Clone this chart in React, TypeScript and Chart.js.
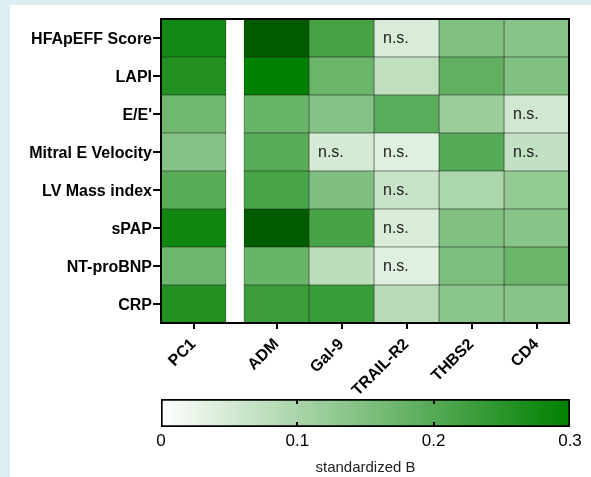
import { useEffect, useRef } from 'react';
import { Chart, registerables } from 'chart.js';

Chart.register(...registerables);

const ROWS = ['HFApEFF Score', 'LAPI', "E/E'", 'Mitral E Velocity', 'LV Mass index', 'sPAP', 'NT-proBNP', 'CRP'];
const COLUMNS = ['PC1', 'ADM', 'Gal-9', 'TRAIL-R2', 'THBS2', 'CD4'];

const PC1 = [0.28, 0.26, 0.168, 0.144, 0.196, 0.281, 0.172, 0.26];
const ADM = [0.355, 0.3, 0.178, 0.196, 0.215, 0.355, 0.178, 0.23];
const GAL9 = [0.219, 0.175, 0.144, 0.049, 0.151, 0.219, 0.081, 0.234];
const TRAIL_R2 = [0.046, 0.075, 0.194, 0.036, 0.065, 0.046, 0.036, 0.084];
const THBS2 = [0.149, 0.187, 0.116, 0.2, 0.098, 0.149, 0.154, 0.138];
const CD4 = [0.14, 0.149, 0.055, 0.072, 0.126, 0.14, 0.175, 0.14];

const NS_PC1: string[] = [];
const NS_ADM: string[] = [];
const NS_GAL9 = ['Mitral E Velocity'];
const NS_TRAIL_R2 = ['HFApEFF Score', 'Mitral E Velocity', 'LV Mass index', 'sPAP', 'NT-proBNP'];
const NS_THBS2: string[] = [];
const NS_CD4 = ["E/E'", 'Mitral E Velocity'];

const COLORBAR_TICKS = [0, 0.1, 0.2, 0.3];
const COLORBAR_TITLE = 'standardized \u0392';

const GAP = 18 / 65;
const FONT = '"Liberation Sans", Arial, Helvetica, sans-serif';

function colStart(i: number) {
  return i === 0 ? 0 : i + GAP;
}

function colorFor(v: number) {
  if (v <= 0.3) {
    const t = Math.max(0, v) / 0.3;
    const r = Math.round(255 * (1 - t));
    const g = Math.round(255 - 127 * t);
    return `rgb(${r},${g},${r})`;
  }
  const t = Math.min((v - 0.3) / 0.1, 1);
  const g = Math.round(128 - 68 * t);
  return `rgb(0,${g},0)`;
}

export default function App() {
  const heatRef = useRef<HTMLCanvasElement | null>(null);
  const barRef = useRef<HTMLCanvasElement | null>(null);

  useEffect(() => {
    const seriesList = [PC1, ADM, GAL9, TRAIL_R2, THBS2, CD4];
    const nsList = [NS_PC1, NS_ADM, NS_GAL9, NS_TRAIL_R2, NS_THBS2, NS_CD4];

    const framePlugin = {
      id: 'frame',
      afterDatasetsDraw(chart: any) {
        const { ctx, chartArea: a } = chart;
        ctx.save();
        ctx.strokeStyle = '#000';
        ctx.lineWidth = 2;
        ctx.strokeRect(a.left, a.top, a.right - a.left, a.bottom - a.top);
        ctx.restore();
      },
    };

    const nsPlugin = {
      id: 'nsText',
      afterDatasetsDraw(chart: any) {
        const ctx = chart.ctx;
        ctx.save();
        ctx.font = `16px ${FONT}`;
        ctx.fillStyle = '#222';
        ctx.textAlign = 'left';
        ctx.textBaseline = 'middle';
        nsList.forEach((ns, di) => {
          const meta = chart.getDatasetMeta(di);
          ROWS.forEach((row, ri) => {
            if (ns.includes(row)) {
              const el = meta.data[ri];
              const left = Math.min(el.x, el.base);
              ctx.fillText('n.s.', left + 9, el.y + 1);
            }
          });
        });
        ctx.restore();
      },
    };

    const heat = new Chart(heatRef.current as HTMLCanvasElement, {
      type: 'bar',
      data: {
        labels: ROWS,
        datasets: COLUMNS.map((name, i) => ({
          label: name,
          data: ROWS.map(() => [colStart(i), colStart(i) + 1]),
          backgroundColor: seriesList[i].map(colorFor),
          borderColor: '#222',
          borderWidth: 0.6,
          borderSkipped: false,
          grouped: false,
          barPercentage: 1,
          categoryPercentage: 1,
        })) as any,
      },
      options: {
        indexAxis: 'y',
        responsive: false,
        animation: false,
        layout: { padding: { top: 19, right: 22, left: 0, bottom: 0 } },
        plugins: { legend: { display: false }, tooltip: { enabled: false } },
        scales: {
          x: {
            type: 'linear',
            min: 0,
            max: COLUMNS.length + GAP,
            afterBuildTicks: (s: any) => {
              s.ticks = COLUMNS.map((_, i) => ({ value: colStart(i) + 0.5 }));
            },
            afterFit: (s: any) => {
              s.height = 77;
            },
            ticks: {
              autoSkip: false,
              maxRotation: 45,
              minRotation: 45,
              callback: (_v: any, i: number) => COLUMNS[i],
              font: { family: FONT, size: 16, weight: 'bold' },
              color: '#000',
              padding: 6,
            },
            grid: { drawOnChartArea: false, drawTicks: true, tickLength: 6, color: '#000', lineWidth: 2 },
            border: { display: false },
          },
          y: {
            type: 'category',
            afterFit: (s: any) => {
              s.width = 161;
            },
            ticks: {
              font: { family: FONT, size: 16, weight: 'bold' },
              color: '#000',
              padding: 1,
              labelOffset: 1.5,
            },
            grid: { offset: false, drawOnChartArea: false, drawTicks: true, tickLength: 8, color: '#000', lineWidth: 2 },
            border: { display: false },
          },
        },
      } as any,
      plugins: [framePlugin, nsPlugin],
    });

    const tickMarkPlugin = {
      id: 'cbTicks',
      afterDatasetsDraw(chart: any) {
        const { ctx, chartArea: a } = chart;
        const xs = chart.scales.x;
        ctx.save();
        ctx.strokeStyle = '#000';
        ctx.lineWidth = 2;
        COLORBAR_TICKS.slice(1, -1).forEach((v) => {
          const x = Math.round(xs.getPixelForValue(v));
          ctx.beginPath();
          ctx.moveTo(x, a.top);
          ctx.lineTo(x, a.top + 5);
          ctx.moveTo(x, a.bottom - 5);
          ctx.lineTo(x, a.bottom);
          ctx.stroke();
        });
        ctx.restore();
      },
    };

    const cbMin = COLORBAR_TICKS[0];
    const cbMax = COLORBAR_TICKS[COLORBAR_TICKS.length - 1];

    const bar = new Chart(barRef.current as HTMLCanvasElement, {
      type: 'bar',
      data: {
        labels: ['scale'],
        datasets: [
          {
            data: [[cbMin, cbMax]],
            backgroundColor: (c: any) => {
              const ch = c.chart;
              if (!ch.chartArea) return '#fff';
              const xs = ch.scales.x;
              const g = ch.ctx.createLinearGradient(xs.getPixelForValue(cbMin), 0, xs.getPixelForValue(cbMax), 0);
              COLORBAR_TICKS.forEach((v) => g.addColorStop((v - cbMin) / (cbMax - cbMin), colorFor(v)));
              return g;
            },
            borderColor: '#000',
            borderWidth: 2,
            borderSkipped: false,
            barPercentage: 1,
            categoryPercentage: 1,
          },
        ] as any,
      },
      options: {
        indexAxis: 'y',
        responsive: false,
        animation: false,
        layout: { padding: { top: 9, left: 161, right: 21, bottom: 0 } },
        plugins: { legend: { display: false }, tooltip: { enabled: false } },
        scales: {
          x: {
            type: 'linear',
            min: cbMin,
            max: cbMax,
            afterBuildTicks: (s: any) => {
              s.ticks = COLORBAR_TICKS.map((v) => ({ value: v }));
            },
            afterFit: (s: any) => {
              s.height = 50;
            },
            ticks: {
              autoSkip: false,
              maxRotation: 0,
              font: { family: FONT, size: 17 },
              color: '#000',
              padding: 4,
              callback: (v: any) => String(v),
            },
            grid: { display: false, drawTicks: false },
            border: { display: false },
            title: {
              display: true,
              text: COLORBAR_TITLE,
              font: { family: FONT, size: 15 },
              color: '#222',
              padding: { top: 4, bottom: 0.5 },
            },
          },
          y: { display: false },
        },
      } as any,
      plugins: [tickMarkPlugin],
    });

    return () => {
      heat.destroy();
      bar.destroy();
    };
  }, []);

  return (
    <div style={{ position: 'fixed', inset: 0, background: '#ddeef3', overflow: 'hidden' }}>
      <div style={{ position: 'absolute', left: 10, top: 5, right: 0, bottom: 0, background: '#fff' }} />
      <canvas ref={heatRef} width={591} height={400} style={{ position: 'absolute', left: 0, top: 0 }} />
      <canvas ref={barRef} width={591} height={87} style={{ position: 'absolute', left: 0, top: 390 }} />
    </div>
  );
}
